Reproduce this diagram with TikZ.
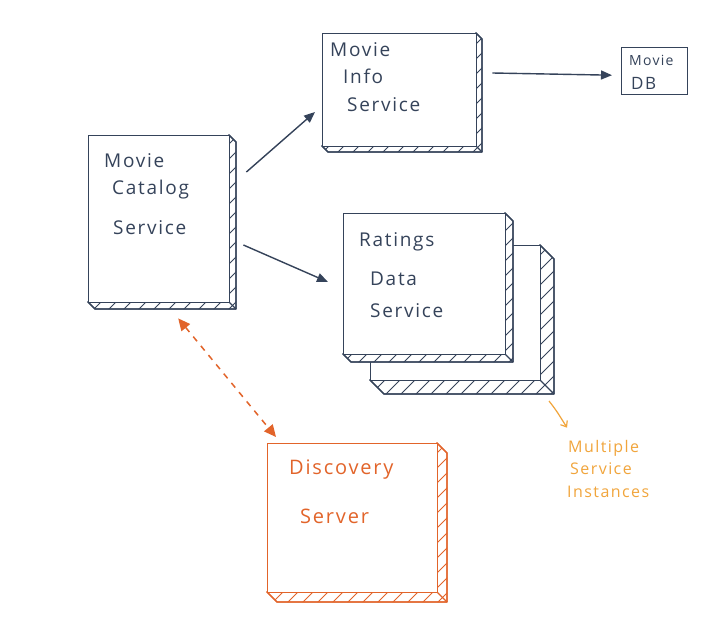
\documentclass[tikz,border=0pt]{standalone}
\usepackage{fontspec}
\setmainfont[LetterSpace=9]{Open Sans}
\usetikzlibrary{arrows.meta,calc}

\definecolor{ink}{HTML}{35435A}
\definecolor{rust}{HTML}{E2642A}
\definecolor{amber}{HTML}{F1A53C}

\tikzset{
  face/.style={draw=#1, fill=white, line width=1.4pt, inner sep=0pt, anchor=north west},
  rim/.style={draw=#1, fill=white, line width=1.4pt, line join=round},
  hatch/.style={draw=#1, line width=0.9pt},
  label/.style={anchor=base west, inner sep=0pt, text=#1},
  conn/.style={draw=ink, line width=1.4pt, -{Triangle[length=11pt,width=9pt]}},
}

% \xbox{name}{x1}{y1}{x2}{y2}{depth}{colour}: box with hatched extruded rim
\newcommand\xbox[7]{%
  \path[rim=#7] (#4,#3) -- ({#4+#6},{#3+#6}) -- ({#4+#6},{#5+#6})
     -- ({#2+#6},{#5+#6}) -- (#2,#5) -- (#4,#5) -- cycle;
  \begin{scope}
    \clip (#4,#3) -- ({#4+#6},{#3+#6}) -- ({#4+#6},{#5+#6})
     -- ({#2+#6},{#5+#6}) -- (#2,#5) -- (#4,#5) -- cycle;
    \pgfmathtruncatemacro\hs{#2+#3}
    \pgfmathtruncatemacro\hn{#2+#3+15}
    \pgfmathtruncatemacro\he{#4+#5+2*#6+4}
    \foreach \c in {\hs,\hn,...,\he}
      \draw[hatch=#7] ({\c-#3+4},{#3-4}) -- ({\c-#5-#6-4},{#5+#6+4});
  \end{scope}
  \path[rim=#7, fill=none] (#4,#3) -- ({#4+#6},{#3+#6}) -- ({#4+#6},{#5+#6})
     -- ({#2+#6},{#5+#6}) -- (#2,#5) -- (#4,#5) -- cycle;
  \draw[draw=#7, line width=1.2pt] (#4,#5) -- ({#4+#6},{#5+#6});
  \node[face=#7, minimum width={(#4-#2)*1pt}, minimum height={(#5-#3)*1pt}]
    (#1) at (#2,#3) {};
}

\begin{document}
\begin{tikzpicture}[x=1pt,y=-1pt]
  \useasboundingbox[fill=white] (0,0) rectangle (712,639);

  % services
  \xbox{cat}{88}{135}{229}{302}{7}{ink}
  \xbox{info}{322}{33}{476}{146}{6}{ink}
  \xbox{rat2}{370}{245}{540}{380}{14}{ink}
  \xbox{rat}{343}{213}{505}{354}{8}{ink}
  \xbox{disc}{267}{443}{437}{592}{10}{rust}
  \node[face=ink, minimum width=66pt, minimum height=47pt] (db) at (621,47) {};

  % labels
  \begin{scope}[font=\fontsize{19}{21}\selectfont]
    \node[label=ink] (catA) at (104,168) {Movie};
    \node[label=ink] (catB) at (112,195) {Catalog};
    \node[label=ink] (catC) at (113,234) {Service};
    \node[label=ink] (infA) at (330,57) {Movie};
    \node[label=ink] (infB) at (343,84) {Info};
    \node[label=ink] (infC) at (347,112) {Service};
    \node[label=ink] (ratA) at (359,247) {Ratings};
    \node[label=ink] (ratB) at (370,285) {Data};
    \node[label=ink] (ratC) at (370,317) {Service};
  \end{scope}
  \node[label=ink, font=\fontsize{14}{16}\selectfont] (dbA) at (629,66) {Movie};
  \node[label=ink, font=\fontsize{17}{19}\selectfont] (dbB) at (631,90) {DB};
  \begin{scope}[font=\fontsize{20}{22}\selectfont]
    \node[label=rust] (discA) at (289,474) {Discovery};
    \node[label=rust] (discB) at (300,523) {Server};
  \end{scope}
  \begin{scope}[font=\fontsize{16}{18}\selectfont]
    \node[label=amber] (mulA) at (568,452) {Multiple};
    \node[label=amber] (mulB) at (570,474) {Service};
    \node[label=amber] (mulC) at (567,497) {Instances};
  \end{scope}

  % calls between services
  \draw[conn] ([shift={(16,37)}]cat.north east) -- ([shift={(-7,79)}]info.north west);
  \draw[conn] ([shift={(13,110)}]cat.north east) -- ([shift={(-15,69)}]rat.north west);
  \draw[conn] ([shift={(15,40)}]info.north east) -- ([shift={(-9,4)}]db.west);

  % registry lookup
  \draw[draw=rust, line width=1.5pt, dash pattern=on 6pt off 6pt,
        {Triangle[length=12pt,width=11pt]}-{Triangle[length=12pt,width=11pt]}]
    ([shift={(19,15)}]cat.south) -- ([shift={(9,-6)}]disc.north west);

  % note pointer
  \coordinate (noteTail) at (549,401);
  \draw[draw=amber, line width=1.2pt, -{Straight Barb[length=5pt,width=8pt]}]
    (noteTail) .. controls (556,410) .. ([shift={(-1,-12)}]mulA.north west);
\end{tikzpicture}
\end{document}
